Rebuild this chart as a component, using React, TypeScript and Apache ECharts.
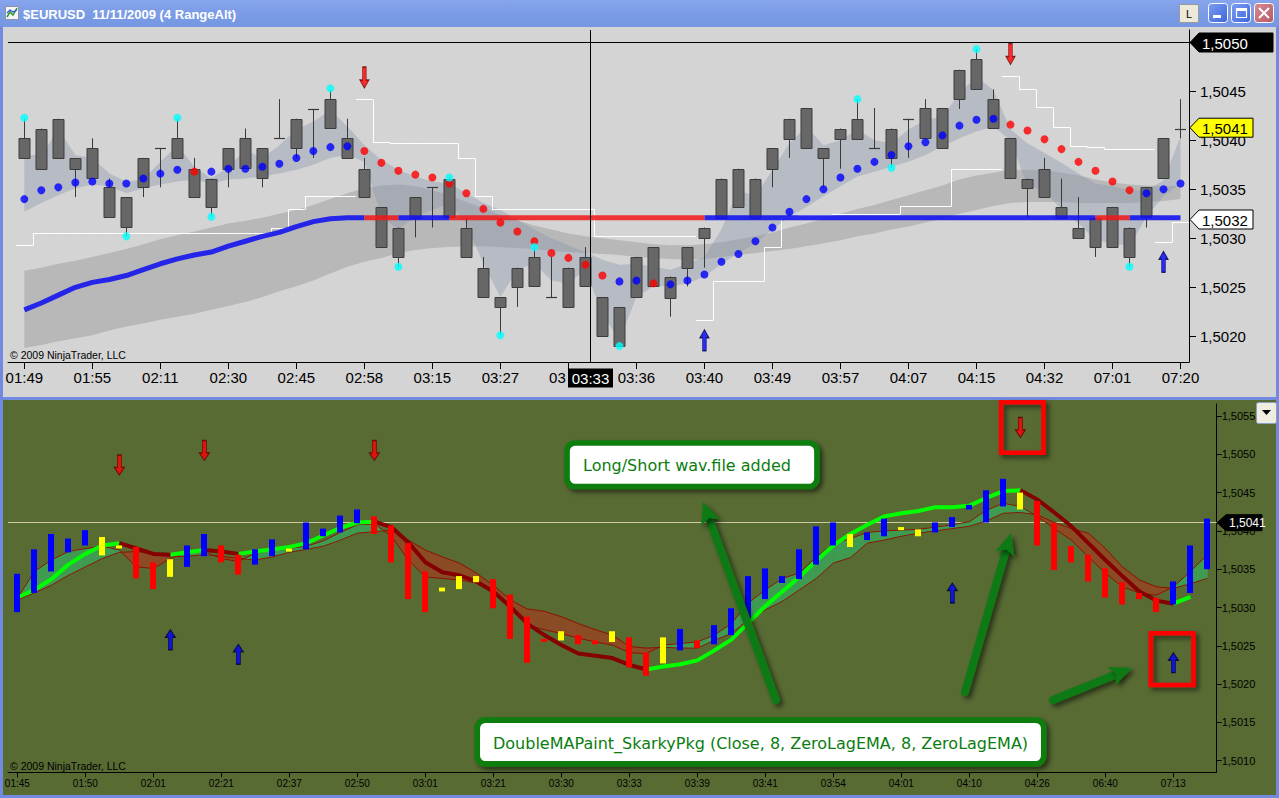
import React, { useEffect, useRef } from "react";
import * as echarts from "echarts";

const FONT = "Liberation Sans, Arial, sans-serif";

// ================= TOP PANEL : $EURUSD 11/11/2009 (4 RangeAlt) =================
// tick label at index 8 is mostly hidden behind the crosshair time box; only "03" shows
const topTickLabels = ["01:49","01:55","02:11","02:30","02:45","02:58","03:15","03:27","03","03:36","03:40","03:49","03:57","04:07","04:15","04:32","07:01","07:20"];
const crosshairTime = "03:33";
const topPriceTicks = [1.502, 1.5025, 1.503, 1.5035, 1.504, 1.5045, 1.505];
const topPriceLabels = [1.502, 1.5025, 1.503, 1.5035, 1.504, 1.5045];

const candleHigh = [
  1.50422,1.50412,1.50422,1.50382,1.50402,1.50361,1.50342,1.50382,1.50392,1.50422,
  1.50382,1.50361,1.50392,1.50412,1.50392,1.50442,1.50422,1.50432,1.50452,1.50422,
  1.50382,1.50332,1.50311,1.50342,1.50352,1.50362,1.50321,1.50281,1.50240,1.50270,
  1.50291,1.50281,1.50270,1.50291,1.50240,1.50230,1.50281,1.50291,1.50261,1.50291,
  1.50311,1.50361,1.50371,1.50361,1.50392,1.50422,1.50433,1.50392,1.50412,1.50442,
  1.50433,1.50412,1.50422,1.50442,1.50433,1.50472,1.50493,1.50452,1.50402,1.50361,
  1.50382,1.50361,1.50342,1.50321,1.50332,1.50311,1.50352,1.50402,1.50442];
const candleBodyTop = [
  1.50402,1.50412,1.50422,1.50382,1.50392,1.50352,1.50342,1.50382,1.50392,1.50402,
  1.50371,1.50361,1.50392,1.50402,1.50392,1.50402,1.50422,1.50432,1.50442,1.50402,
  1.50371,1.50332,1.50311,1.50342,1.50352,1.50361,1.50311,1.50270,1.50240,1.50270,
  1.50281,1.50240,1.50270,1.50281,1.50240,1.50230,1.50281,1.50291,1.50261,1.50291,
  1.50311,1.50361,1.50371,1.50361,1.50392,1.50422,1.50433,1.50392,1.50412,1.50422,
  1.50392,1.50412,1.50422,1.50433,1.50433,1.50472,1.50483,1.50442,1.50402,1.50361,
  1.50371,1.50332,1.50311,1.50321,1.50332,1.50311,1.50352,1.50402,1.50412];
const candleBodyBottom = [
  1.50382,1.50371,1.50382,1.50371,1.50361,1.50321,1.50311,1.50352,1.50392,1.50382,
  1.50342,1.50332,1.50371,1.50371,1.50361,1.50402,1.50392,1.50432,1.50412,1.50382,
  1.50342,1.50291,1.50281,1.50321,1.50352,1.50322,1.50281,1.50240,1.50230,1.50251,
  1.50251,1.50240,1.50230,1.50251,1.50200,1.50190,1.50240,1.50251,1.50240,1.50270,
  1.50301,1.50321,1.50332,1.50321,1.50371,1.50402,1.50392,1.50382,1.50402,1.50402,
  1.50392,1.50382,1.50422,1.50402,1.50392,1.50442,1.50452,1.50412,1.50361,1.50352,
  1.50342,1.50321,1.50301,1.50291,1.50291,1.50281,1.50321,1.50361,1.50412];
const candleLow = [
  1.50382,1.50371,1.50382,1.50342,1.50361,1.50321,1.50302,1.50342,1.50352,1.50382,
  1.50342,1.50322,1.50352,1.50371,1.50352,1.50402,1.50382,1.50382,1.50412,1.50382,
  1.50342,1.50291,1.50271,1.50301,1.50311,1.50322,1.50281,1.50240,1.50201,1.50230,
  1.50251,1.50240,1.50230,1.50251,1.50200,1.50190,1.50240,1.50251,1.50220,1.50251,
  1.50270,1.50321,1.50332,1.50321,1.50352,1.50382,1.50392,1.50352,1.50371,1.50402,
  1.50392,1.50372,1.50382,1.50402,1.50392,1.50432,1.50452,1.50412,1.50361,1.50321,
  1.50342,1.50321,1.50301,1.50281,1.50291,1.50271,1.50311,1.50361,1.50402];

// dotted moving average (blue = up, red = down)
const dotValues = [
  1.50340,1.50349,1.50352,1.50357,1.50358,1.50356,1.50356,1.50361,1.50366,1.50370,
  1.50368,1.50368,1.50371,1.50371,1.50373,1.50376,1.50382,1.50389,1.50393,1.50394,
  1.50389,1.50377,1.50369,1.50365,1.50362,1.50356,1.50346,1.50330,1.50316,1.50307,
  1.50297,1.50285,1.50280,1.50273,1.50262,1.50256,1.50257,1.50254,1.50253,1.50257,
  1.50263,1.50276,1.50284,1.50297,1.50311,1.50327,1.50340,1.50350,1.50362,1.50371,
  1.50378,1.50385,1.50394,1.50398,1.50405,1.50415,1.50421,1.50422,1.50416,1.50410,
  1.50401,1.50391,1.50378,1.50369,1.50358,1.50349,1.50346,1.50350,1.50356];
const dotTrendRuns: [string, number][] = [["u",10],["d",1],["u",9],["d",15],["u",2],["d",1],["u",20],["d",8],["u",3]];

// swing high / low markers
const swingIndex = [0, 6, 9, 11, 18, 22, 25, 28, 30, 35, 49, 51, 56, 65];
const swingValue = [1.50423,1.50302,1.50423,1.50322,1.50453,1.50271,1.50362,1.50201,1.50291,1.50190,1.50442,1.50372,1.50493,1.50271];

// thick trend line
const trendLine = [
  1.50227,1.50234,1.50242,1.50250,1.50255,1.50258,1.50262,1.50268,1.50274,1.50279,
  1.50283,1.50286,1.50292,1.50297,1.50302,1.50306,1.50312,1.50317,1.50320,1.50321,
  1.50321,1.50321,1.50321,1.50321,1.50321,1.50321,1.50321,1.50321,1.50321,1.50321,
  1.50321,1.50321,1.50321,1.50321,1.50321,1.50321,1.50321,1.50321,1.50321,1.50321,
  1.50321,1.50321,1.50321,1.50321,1.50321,1.50321,1.50321,1.50321,1.50321,1.50321,
  1.50321,1.50321,1.50321,1.50321,1.50321,1.50321,1.50321,1.50321,1.50321,1.50321,
  1.50321,1.50321,1.50321,1.50321,1.50321,1.50321,1.50321,1.50321,1.50321];
const trendLineRuns: [string, number][] = [["b",20],["r",2],["b",3],["r",15],["b",23],["r",2],["b",3]];

// white trailing stop
const stopValues = [
  1.50293,
  1.50305,1.50305,1.50305,1.50305,1.50305,1.50305,1.50305,1.50305,1.50305,1.50305,1.50305,1.50305,1.50305,1.50305,
  1.50311,1.50330,1.50343,1.50343,1.50343,
  1.50442,1.50398,1.50397,1.50397,1.50397,1.50397,1.50382,1.50343,
  1.50330,1.50330,1.50330,1.50330,1.50330,1.50330,
  1.50302,1.50302,1.50302,1.50302,1.50302,1.50302,
  1.50217,1.50256,1.50256,1.50256,1.50291,1.50322,1.50324,1.50324,
  1.50325,1.50325,1.50325,1.50325,1.50333,1.50333,1.50333,1.50371,1.50371,1.50371,
  1.50466,1.50452,1.50434,1.50414,1.50394,1.50393,1.50391,1.50391,1.50391,
  1.50296,1.50317];
const stopLegStarts = [0, 20, 40, 58, 67];

// envelope bands
const slowBandUpper = [
  1.50267,1.50270,1.50274,1.50277,1.50281,1.50285,1.50289,1.50294,1.50299,1.50303,
  1.50307,1.50311,1.50315,1.50318,1.50321,1.50325,1.50329,1.50334,1.50340,1.50346,
  1.50351,1.50354,1.50355,1.50353,1.50349,1.50344,1.50337,1.50331,1.50324,1.50318,
  1.50313,1.50309,1.50305,1.50302,1.50300,1.50298,1.50296,1.50294,1.50293,1.50293,
  1.50294,1.50296,1.50299,1.50302,1.50306,1.50311,1.50315,1.50320,1.50325,1.50330,
  1.50334,1.50339,1.50344,1.50349,1.50354,1.50360,1.50364,1.50367,1.50370,1.50370,
  1.50370,1.50367,1.50364,1.50360,1.50357,1.50355,1.50354,1.50353,1.50354];
const slowBandLower = [
  1.50188,1.50191,1.50195,1.50198,1.50201,1.50206,1.50210,1.50213,1.50217,1.50220,
  1.50223,1.50227,1.50231,1.50235,1.50240,1.50246,1.50251,1.50257,1.50264,1.50271,
  1.50276,1.50280,1.50285,1.50288,1.50290,1.50291,1.50292,1.50292,1.50291,1.50290,
  1.50289,1.50287,1.50286,1.50285,1.50284,1.50283,1.50281,1.50280,1.50279,1.50278,
  1.50279,1.50281,1.50283,1.50285,1.50287,1.50289,1.50292,1.50295,1.50298,1.50302,
  1.50305,1.50309,1.50312,1.50316,1.50320,1.50325,1.50329,1.50333,1.50336,1.50337,
  1.50337,1.50337,1.50336,1.50336,1.50336,1.50336,1.50337,1.50338,1.50340];
const fastBandUpper = [
  1.50385,1.50385,1.50411,1.50385,1.50382,1.50366,1.50358,1.50360,1.50378,1.50395,
  1.50373,1.50361,1.50373,1.50390,1.50382,1.50395,1.50411,1.50419,1.50431,1.50414,
  1.50395,1.50380,1.50370,1.50363,1.50358,1.50356,1.50346,1.50336,1.50329,1.50319,
  1.50309,1.50300,1.50293,1.50286,1.50278,1.50273,1.50274,1.50271,1.50268,1.50274,
  1.50281,1.50309,1.50349,1.50343,1.50370,1.50397,1.50414,1.50395,1.50400,1.50411,
  1.50400,1.50397,1.50411,1.50421,1.50424,1.50448,1.50465,1.50451,1.50411,1.50397,
  1.50387,1.50377,1.50366,1.50356,1.50353,1.50349,1.50349,1.50359,1.50404];
const fastBandLower = [
  1.50327,1.50336,1.50344,1.50351,1.50355,1.50353,1.50346,1.50351,1.50355,1.50358,
  1.50360,1.50356,1.50360,1.50361,1.50363,1.50366,1.50370,1.50375,1.50382,1.50385,
  1.50378,1.50322,1.50309,1.50322,1.50329,1.50336,1.50315,1.50274,1.50240,1.50268,
  1.50274,1.50257,1.50254,1.50268,1.50223,1.50196,1.50240,1.50251,1.50251,1.50254,
  1.50261,1.50274,1.50285,1.50295,1.50309,1.50322,1.50332,1.50343,1.50353,1.50363,
  1.50368,1.50373,1.50378,1.50385,1.50394,1.50402,1.50409,1.50414,1.50400,1.50353,
  1.50349,1.50329,1.50315,1.50298,1.50295,1.50292,1.50322,1.50343,1.50356];

// signal arrows [bar index, price]
const topSellArrows = [[20, 1.50464], [58, 1.50488]];
const topBuyArrows = [[40, 1.50196], [67, 1.50276]];

// ================= BOTTOM PANEL : DoubleMAPaint =================
const bottomTickLabels = ["01:45","01:50","02:01","02:21","02:37","02:50","03:01","03:21","03:30","03:33","03:39","03:41","03:54","04:01","04:10","04:26","06:40","07:13"];
const bottomPriceTicks = [1.501, 1.5015, 1.502, 1.5025, 1.503, 1.5035, 1.504, 1.5045, 1.505, 1.5055];

const barHigh = [
  1.50344,1.50376,1.50396,1.50390,1.50401,1.50392,1.50381,1.50379,1.50359,1.50363,
  1.50381,1.50396,1.50381,1.50369,1.50376,1.50389,1.50377,1.50411,1.50403,1.50420,
  1.50428,1.50419,1.50407,1.50384,1.50347,1.50326,1.50341,1.50341,1.50337,1.50317,
  1.50288,1.50259,1.50269,1.50264,1.50257,1.50269,1.50261,1.50241,1.50261,1.50272,
  1.50257,1.50277,1.50299,1.50341,1.50351,1.50341,1.50376,1.50406,1.50411,1.50396,
  1.50398,1.50416,1.50405,1.50402,1.50411,1.50418,1.50434,1.50453,1.50468,1.50450,
  1.50439,1.50410,1.50380,1.50369,1.50351,1.50333,1.50319,1.50313,1.50334,1.50381,1.50416];
const barLow = [
  1.50294,1.50319,1.50347,1.50372,1.50381,1.50368,1.50378,1.50338,1.50324,1.50340,
  1.50353,1.50367,1.50359,1.50343,1.50356,1.50367,1.50373,1.50376,1.50393,1.50398,
  1.50410,1.50396,1.50359,1.50311,1.50294,1.50321,1.50324,1.50333,1.50299,1.50259,
  1.50228,1.50257,1.50257,1.50252,1.50252,1.50255,1.50222,1.50211,1.50227,1.50244,
  1.50247,1.50252,1.50264,1.50286,1.50311,1.50332,1.50337,1.50356,1.50381,1.50379,
  1.50388,1.50393,1.50401,1.50393,1.50398,1.50405,1.50428,1.50411,1.50432,1.50428,
  1.50381,1.50349,1.50359,1.50334,1.50313,1.50304,1.50311,1.50294,1.50304,1.50319,1.50350];
const barStateRuns: [string, number][] = [["b",5],["y",2],["r",2],["y",1],["b",2],["r",2],["b",2],["y",1],["b",4],["r",4],["y",3],["r",4],["y",1],["r",2],["y",1],["r",2],["y",1],["b",1],["r",1],["b",8],["y",1],["b",2],["y",2],["b",5],["y",1],["r",8],["b",3]];

const fastMA: (number | null)[] = [
  1.50313,1.50323,1.50337,1.50356,1.50370,1.50381,1.50384,1.50377,1.50370,1.50369,
  1.50372,1.50375,1.50373,1.50370,1.50373,1.50376,1.50379,1.50384,1.50394,1.50404,
  1.50411,1.50412,1.50405,1.50385,1.50359,1.50346,1.50342,1.50334,1.50321,1.50301,
  1.50279,1.50264,1.50251,1.50240,1.50237,1.50234,1.50225,1.50219,1.50223,1.50226,
  1.50231,1.50244,1.50258,1.50280,1.50302,1.50321,1.50340,1.50361,1.50381,1.50396,
  1.50408,1.50419,1.50423,1.50426,1.50431,1.50431,1.50433,1.50443,1.50452,1.50453,
  1.50441,1.50424,1.50406,1.50384,1.50362,1.50341,1.50321,1.50309,1.50305,1.50314,null];
const fastMARuns: [string, number][] = [["g",6],["r",3],["g",2],["r",2],["g",8],["r",16],["g",22],["r",9],["g",1]];

const envA = [
  1.50312,1.50347,1.50362,1.50373,1.50377,1.50380,1.50375,1.50353,1.50351,1.50364,
  1.50372,1.50373,1.50364,1.50360,1.50371,1.50375,1.50377,1.50380,1.50387,1.50398,
  1.50408,1.50409,1.50393,1.50362,1.50340,1.50338,1.50336,1.50332,1.50319,1.50299,
  1.50277,1.50271,1.50266,1.50260,1.50255,1.50251,1.50241,1.50240,1.50251,1.50253,
  1.50255,1.50264,1.50279,1.50306,1.50323,1.50338,1.50345,1.50366,1.50383,1.50390,
  1.50398,1.50400,1.50401,1.50402,1.50405,1.50408,1.50412,1.50427,1.50436,1.50432,
  1.50419,1.50403,1.50388,1.50366,1.50345,1.50327,1.50319,1.50316,1.50327,1.50347,1.50369];
const envB = [
  1.50310,1.50319,1.50329,1.50342,1.50353,1.50364,1.50372,1.50373,1.50371,1.50366,
  1.50367,1.50369,1.50367,1.50364,1.50362,1.50366,1.50372,1.50376,1.50380,1.50388,
  1.50397,1.50399,1.50401,1.50388,1.50375,1.50366,1.50358,1.50345,1.50329,1.50310,
  1.50298,1.50295,1.50288,1.50279,1.50271,1.50264,1.50249,1.50247,1.50248,1.50247,
  1.50247,1.50257,1.50266,1.50284,1.50297,1.50308,1.50323,1.50338,1.50358,1.50365,
  1.50384,1.50388,1.50393,1.50397,1.50400,1.50403,1.50406,1.50413,1.50423,1.50424,
  1.50421,1.50411,1.50403,1.50397,1.50377,1.50353,1.50336,1.50327,1.50325,1.50331,1.50338];

const bottomSellArrows = [[6, 1.50486], [11, 1.50505], [21, 1.50505], [59, 1.50535]];
const bottomBuyArrows = [[9, 1.50258], [13, 1.50239], [55, 1.50319], [68, 1.50228]];

// ================= helpers =================
const fmtPrice = (v: number) => v.toFixed(4).replace(".", ",");
function expandRuns(runs: [string, number][]) {
  const out: string[] = [];
  runs.forEach(([c, n]) => { for (let k = 0; k < n; k++) out.push(c); });
  return out;
}
function splitByTrend(values: (number | null)[], trend: string[], code: string) {
  return values.map((v, i) => {
    const on = (i > 0 && trend[i - 1] === code) || (i < trend.length && trend[i] === code);
    return [i, on && v != null ? v : "-"];
  });
}
const DOWN_ARROW = "path://M3,0L7,0L7,13L10,13L5,21L0,13L3,13Z";
const UP_ARROW = "path://M5,0L10,8L7,8L7,21L3,21L3,8L0,8Z";

function bandPolygon(api: any, up: number[], lo: number[]) {
  const pts: number[][] = [];
  up.forEach((v, i) => pts.push(api.coord([i, v])));
  for (let i = lo.length - 1; i >= 0; i--) pts.push(api.coord([i, lo[i]]));
  return pts;
}

function greenArrow(tx: number, ty: number, hx: number, hy: number) {
  const dx = hx - tx, dy = hy - ty;
  const len = Math.hypot(dx, dy);
  const ux = dx / len, uy = dy / len, nx = -uy, ny = ux;
  const headLen = 22, headW = 10;
  const bx = hx - ux * headLen, by = hy - uy * headLen;
  const sh = { shadowBlur: 5, shadowColor: "rgba(0,0,0,0.55)", shadowOffsetX: 3, shadowOffsetY: 3 };
  return [
    { type: "line", z: 100, shape: { x1: tx, y1: ty, x2: bx + ux * 4, y2: by + uy * 4 }, style: { stroke: "#0e7a12", lineWidth: 8, lineCap: "round", ...sh } },
    { type: "polygon", z: 101, shape: { points: [[hx, hy], [bx + nx * headW, by + ny * headW], [bx + ux * 5, by + uy * 5], [bx - nx * headW, by - ny * headW]] }, style: { fill: "#0e7a12", ...sh } },
  ];
}

function priceTag(x: number, y: number, w: number, text: string, fill: string, color: string, stroke: string | null, fs: number) {
  const h = fs + 4;
  return [
    { type: "polygon", z: 60, shape: { points: [[x, y], [x + 9, y - h / 2], [x + w, y - h / 2], [x + w, y + h / 2], [x + 9, y + h / 2]] }, style: { fill, stroke: stroke || fill, lineWidth: 1 } },
    { type: "text", z: 61, x: x + 12, y: y + 0.5, style: { text, fill: color, fontSize: fs, fontFamily: FONT, verticalAlign: "middle", textVerticalAlign: "middle" } },
  ];
}

function buildOption() {
  const dotTrend = expandRuns(dotTrendRuns);
  const lineTrend = expandRuns(trendLineRuns);
  const barState = expandRuns(barStateRuns);
  const fastTrend = expandRuns(fastMARuns);
  const topTickIdx = topTickLabels.map((_, k) => k * 4);
  const bottomTickIdx = bottomTickLabels.map((_, k) => k * 4);
  const GREEN_FILL = "#3f9b52";
  const BROWN_FILL = "#8b4b25";
  const barColor: Record<string, string> = { b: "#0000ff", r: "#ff0000", y: "#ffff00" };

  const series: any[] = [
    {
      type: "custom", xAxisIndex: 0, yAxisIndex: 0, z: 1, silent: true, data: [[0, slowBandUpper[0]]],
      renderItem: (_p: any, api: any) => ({ type: "polygon", shape: { points: bandPolygon(api, slowBandUpper, slowBandLower) }, style: { fill: "rgba(120,120,120,0.30)" } }),
    },
    {
      type: "custom", xAxisIndex: 0, yAxisIndex: 0, z: 1, silent: true, data: [[0, fastBandUpper[0]]],
      renderItem: (_p: any, api: any) => ({ type: "polygon", shape: { points: bandPolygon(api, fastBandUpper, fastBandLower) }, style: { fill: "rgba(135,146,170,0.38)" } }),
    },
    {
      type: "custom", xAxisIndex: 0, yAxisIndex: 0, z: 2, silent: true,
      data: stopValues.map((v, i) => [i, v]),
      renderItem: (params: any, api: any) => {
        const i = params.dataIndex;
        const p = api.coord([i, stopValues[i]]);
        const half = api.size([1, 0])[0] / 2;
        const y = Math.round(p[1]) + 0.5;
        const children: any[] = [{ type: "line", shape: { x1: p[0] - half, y1: y, x2: p[0] + half, y2: y }, style: { stroke: "#ffffff", lineWidth: 1 } }];
        if (i > 0 && stopLegStarts.indexOf(i) < 0) {
          const q = api.coord([i - 1, stopValues[i - 1]]);
          const xq = Math.round(p[0] - half) + 0.5;
          children.push({ type: "line", shape: { x1: xq, y1: Math.round(q[1]) + 0.5, x2: xq, y2: y }, style: { stroke: "#ffffff", lineWidth: 1 } });
        }
        return { type: "group", children };
      },
    },
    {
      type: "custom", xAxisIndex: 0, yAxisIndex: 0, z: 3, silent: true,
      data: candleHigh.map((h, i) => [i, h, candleBodyTop[i], candleBodyBottom[i], candleLow[i]]),
      encode: { x: 0, y: [1, 4] },
      renderItem: (params: any, api: any) => {
        const i = params.dataIndex;
        const pH = api.coord([i, candleHigh[i]]);
        const pT = api.coord([i, candleBodyTop[i]]);
        const pB = api.coord([i, candleBodyBottom[i]]);
        const pL = api.coord([i, candleLow[i]]);
        const x = Math.round(pH[0]) + 0.5;
        const w = 11;
        const children: any[] = [];
        if (pL[1] - pH[1] > 0.5) children.push({ type: "line", shape: { x1: x, y1: pH[1], x2: x, y2: pL[1] }, style: { stroke: "#3a3a3a", lineWidth: 1 } });
        if (pB[1] - pT[1] < 1.5) {
          const yy = Math.round(pT[1]) + 0.5;
          children.push({ type: "line", shape: { x1: x - w / 2, y1: yy, x2: x + w / 2, y2: yy }, style: { stroke: "#3a3a3a", lineWidth: 1.2 } });
        } else {
          children.push({ type: "rect", shape: { x: x - w / 2, y: Math.round(pT[1]) + 0.5, width: w, height: Math.round(pB[1] - pT[1]) }, style: { fill: "#676767", stroke: "#3c3c3c", lineWidth: 1 } });
        }
        return { type: "group", children };
      },
    },
    {
      type: "line", xAxisIndex: 0, yAxisIndex: 0, z: 4, silent: true, symbol: "none", connectNulls: false,
      data: splitByTrend(trendLine, lineTrend, "b"), lineStyle: { color: "#1010f0", width: 5, opacity: 0.88 },
    },
    {
      type: "line", xAxisIndex: 0, yAxisIndex: 0, z: 4, silent: true, symbol: "none", connectNulls: false,
      data: splitByTrend(trendLine, lineTrend, "r"), lineStyle: { color: "#f01818", width: 5, opacity: 0.85 },
    },
    {
      type: "scatter", xAxisIndex: 0, yAxisIndex: 0, z: 5, silent: true, symbolSize: 8,
      data: dotValues.map((v, i) => ({ value: [i, v], itemStyle: { color: dotTrend[i] === "u" ? "#0000ff" : "#ff0000" } })),
    },
    {
      type: "scatter", xAxisIndex: 0, yAxisIndex: 0, z: 5, silent: true, symbolSize: 8,
      data: swingIndex.map((i, k) => [i, swingValue[k]]), itemStyle: { color: "#00ffff" },
    },
    {
      type: "scatter", xAxisIndex: 0, yAxisIndex: 0, z: 6, silent: true, symbol: DOWN_ARROW, symbolSize: [9, 21],
      data: topSellArrows, itemStyle: { color: "#ff0000", borderColor: "#6a0000", borderWidth: 1 },
    },
    {
      type: "scatter", xAxisIndex: 0, yAxisIndex: 0, z: 6, silent: true, symbol: UP_ARROW, symbolSize: [9, 21],
      data: topBuyArrows, itemStyle: { color: "#0000ff", borderColor: "#000044", borderWidth: 1 },
    },
    {
      type: "custom", xAxisIndex: 1, yAxisIndex: 1, z: 1, silent: true,
      data: envA.slice(0, -1).map((v, i) => [i, v]),
      renderItem: (params: any, api: any) => {
        const i = params.dataIndex;
        const a0 = api.coord([i, envA[i]]), a1 = api.coord([i + 1, envA[i + 1]]);
        const b0 = api.coord([i, envB[i]]), b1 = api.coord([i + 1, envB[i + 1]]);
        const d0 = envA[i] - envB[i], d1 = envA[i + 1] - envB[i + 1];
        const col = (d: number) => (d >= 0 ? GREEN_FILL : BROWN_FILL);
        if (d0 * d1 < 0) {
          const t = d0 / (d0 - d1);
          const c = [a0[0] + t * (a1[0] - a0[0]), a0[1] + t * (a1[1] - a0[1])];
          return {
            type: "group", children: [
              { type: "polygon", shape: { points: [a0, c, b0] }, style: { fill: col(d0), stroke: col(d0), lineWidth: 0.6 } },
              { type: "polygon", shape: { points: [c, a1, b1] }, style: { fill: col(d1), stroke: col(d1), lineWidth: 0.6 } },
            ],
          };
        }
        const cc = col(d0 + d1);
        return { type: "polygon", shape: { points: [a0, a1, b1, b0] }, style: { fill: cc, stroke: cc, lineWidth: 0.6 } };
      },
    },
    {
      type: "line", xAxisIndex: 1, yAxisIndex: 1, z: 2, silent: true, symbol: "none",
      data: envA.map((v, i) => [i, v]), lineStyle: { color: "#8a1400", width: 1 },
    },
    {
      type: "line", xAxisIndex: 1, yAxisIndex: 1, z: 2, silent: true, symbol: "none",
      data: envB.map((v, i) => [i, v]), lineStyle: { color: "#8a1400", width: 1 },
    },
    {
      type: "line", xAxisIndex: 1, yAxisIndex: 1, z: 3, silent: true, symbol: "none", connectNulls: false,
      data: splitByTrend(fastMA, fastTrend, "g"), lineStyle: { color: "#00ff00", width: 4 },
    },
    {
      type: "line", xAxisIndex: 1, yAxisIndex: 1, z: 3, silent: true, symbol: "none", connectNulls: false,
      data: splitByTrend(fastMA, fastTrend, "r"), lineStyle: { color: "#850000", width: 4 },
    },
    {
      type: "custom", xAxisIndex: 1, yAxisIndex: 1, z: 4, silent: true,
      data: barHigh.map((h, i) => [i, h, barLow[i]]),
      encode: { x: 0, y: [1, 2] },
      renderItem: (params: any, api: any) => {
        const i = params.dataIndex;
        const p1 = api.coord([i, barHigh[i]]);
        const p2 = api.coord([i, barLow[i]]);
        const h = Math.max(p2[1] - p1[1], 3);
        return { type: "rect", shape: { x: Math.round(p1[0]) - 3, y: p1[1], width: 6, height: h }, style: { fill: barColor[barState[i]] } };
      },
    },
    {
      type: "scatter", xAxisIndex: 1, yAxisIndex: 1, z: 6, silent: true, symbol: DOWN_ARROW, symbolSize: [10, 20],
      data: bottomSellArrows, itemStyle: { color: "#ff0000", borderColor: "#5a0000", borderWidth: 1 },
    },
    {
      type: "scatter", xAxisIndex: 1, yAxisIndex: 1, z: 6, silent: true, symbol: UP_ARROW, symbolSize: [10, 20],
      data: bottomBuyArrows, itemStyle: { color: "#0000ff", borderColor: "#000030", borderWidth: 1 },
    },
  ];

  const sh = { shadowBlur: 5, shadowColor: "rgba(0,0,0,0.55)", shadowOffsetX: 3, shadowOffsetY: 3 };
  const elements: any[] = [
    { type: "rect", z: -20, shape: { x: 0, y: 0, width: 1279, height: 798 }, style: { fill: "#7189de" } },
    { type: "rect", z: -19, shape: { x: 0, y: 0, width: 1279, height: 27 }, style: { fill: { type: "linear", x: 0, y: 0, x2: 0, y2: 1, colorStops: [{ offset: 0, color: "#86a5ec" }, { offset: 0.5, color: "#7b9be5" }, { offset: 1, color: "#7597e2" }] } } },
    { type: "rect", z: -19, shape: { x: 3, y: 27, width: 1273, height: 370 }, style: { fill: "#d4d4d4" } },
    { type: "rect", z: -19, shape: { x: 3, y: 400, width: 1273, height: 395 }, style: { fill: "#586b33" } },
    { type: "rect", z: 50, shape: { x: 5.5, y: 6.5, width: 13, height: 13 }, style: { fill: "#f4f4f4", stroke: "#8894a8", lineWidth: 1 } },
    { type: "polyline", z: 51, shape: { points: [[7, 17], [10, 12], [13, 15], [17, 8]] }, style: { stroke: "#2a9a2a", lineWidth: 1.5, fill: null } },
    { type: "polyline", z: 51, shape: { points: [[7, 13], [10, 10], [13, 12], [17, 10]] }, style: { stroke: "#2f52d8", lineWidth: 1.2, fill: null } },
    { type: "text", z: 50, x: 23, y: 14, style: { text: "$EURUSD  11/11/2009 (4 RangeAlt)", fill: "#ffffff", fontSize: 13, fontWeight: "bold", fontFamily: FONT, verticalAlign: "middle", textVerticalAlign: "middle" } },
    { type: "rect", z: 50, shape: { x: 1179.5, y: 4.5, width: 19, height: 18 }, style: { fill: "#ece9d8", stroke: "#9a9a9a", lineWidth: 1 } },
    { type: "text", z: 51, x: 1189, y: 14, style: { text: "L", fill: "#000", fontSize: 11, fontFamily: FONT, align: "center", textAlign: "center", verticalAlign: "middle", textVerticalAlign: "middle" } },
    { type: "rect", z: 50, shape: { x: 1208.5, y: 3.5, width: 19, height: 19, r: 3 }, style: { fill: { type: "linear", x: 0, y: 0, x2: 1, y2: 1, colorStops: [{ offset: 0, color: "#7c9cf2" }, { offset: 1, color: "#3d66dc" }] }, stroke: "#ffffff", lineWidth: 1 } },
    { type: "rect", z: 51, shape: { x: 1213, y: 15, width: 8, height: 3 }, style: { fill: "#ffffff" } },
    { type: "rect", z: 50, shape: { x: 1231.5, y: 3.5, width: 19, height: 19, r: 3 }, style: { fill: { type: "linear", x: 0, y: 0, x2: 1, y2: 1, colorStops: [{ offset: 0, color: "#7c9cf2" }, { offset: 1, color: "#3d66dc" }] }, stroke: "#ffffff", lineWidth: 1 } },
    { type: "rect", z: 51, shape: { x: 1236.5, y: 8.5, width: 10, height: 9 }, style: { fill: null, stroke: "#ffffff", lineWidth: 1.2 } },
    { type: "rect", z: 51, shape: { x: 1236.5, y: 8.5, width: 10, height: 2.5 }, style: { fill: "#ffffff" } },
    { type: "rect", z: 50, shape: { x: 1254.5, y: 3.5, width: 19, height: 19, r: 3 }, style: { fill: { type: "linear", x: 0, y: 0, x2: 1, y2: 1, colorStops: [{ offset: 0, color: "#d88a92" }, { offset: 1, color: "#b75866" }] }, stroke: "#ffffff", lineWidth: 1 } },
    { type: "line", z: 51, shape: { x1: 1259, y1: 8, x2: 1269, y2: 18 }, style: { stroke: "#ffffff", lineWidth: 2 } },
    { type: "line", z: 51, shape: { x1: 1269, y1: 8, x2: 1259, y2: 18 }, style: { stroke: "#ffffff", lineWidth: 2 } },

    { type: "text", z: 50, x: 10, y: 355, style: { text: "© 2009 NinjaTrader, LLC", fill: "#000", fontSize: 10.5, fontFamily: FONT, verticalAlign: "middle", textVerticalAlign: "middle" } },
    { type: "line", z: 50, shape: { x1: 8, y1: 42.5, x2: 1189, y2: 42.5 }, style: { stroke: "#000", lineWidth: 1 } },
    { type: "line", z: 50, shape: { x1: 590.5, y1: 30, x2: 590.5, y2: 362 }, style: { stroke: "#000", lineWidth: 1 } },
    { type: "rect", z: 60, shape: { x: 568, y: 368.5, width: 45, height: 19 }, style: { fill: "#000" } },
    { type: "text", z: 61, x: 590.5, y: 378.5, style: { text: crosshairTime, fill: "#fff", fontSize: 15, fontFamily: FONT, align: "center", textAlign: "center", verticalAlign: "middle", textVerticalAlign: "middle" } },
    ...priceTag(1190, 42.5, 83, "1,5050", "#000000", "#ffffff", null, 15),
    ...priceTag(1190, 127.7, 63, "1,5041", "#ffff00", "#000000", "#000000", 15),
    ...priceTag(1190, 219.5, 63, "1,5032", "#ffffff", "#000000", "#000000", 15),

    { type: "line", z: 1, shape: { x1: 8, y1: 522.5, x2: 1216.7, y2: 522.5 }, style: { stroke: "#cfc8a6", lineWidth: 1 } },
    { type: "text", z: 50, x: 10, y: 766, style: { text: "© 2009 NinjaTrader, LLC", fill: "#000", fontSize: 10.5, fontFamily: FONT, verticalAlign: "middle", textVerticalAlign: "middle" } },
    ...priceTag(1217, 522.7, 45, "1,5041", "#000000", "#ffffff", null, 12),
    { type: "rect", z: 60, shape: { x: 1256.5, y: 402.5, width: 20, height: 21, r: 2 }, style: { fill: "#efece0", stroke: "#8aa0c0", lineWidth: 1 } },
    { type: "polygon", z: 61, shape: { points: [[1262, 410], [1271, 410], [1266.5, 415]] }, style: { fill: "#000" } },

    { type: "rect", z: 100, shape: { x: 567, y: 443, width: 250, height: 43.5, r: 8 }, style: { fill: "#ffffff", stroke: "#0b7d10", lineWidth: 5.7, ...sh } },
    { type: "text", z: 101, x: 583, y: 465, style: { text: "Long/Short wav.file added", fill: "#0b7d10", fontSize: 16, fontFamily: "DejaVu Sans, sans-serif", verticalAlign: "middle", textVerticalAlign: "middle" } },
    { type: "rect", z: 100, shape: { x: 477.2, y: 720.2, width: 566.6, height: 43.6, r: 8 }, style: { fill: "#ffffff", stroke: "#0b7d10", lineWidth: 5.7, ...sh } },
    { type: "text", z: 101, x: 493, y: 743, style: { text: "DoubleMAPaint_SkarkyPkg (Close, 8, ZeroLagEMA, 8, ZeroLagEMA)", fill: "#0b7d10", fontSize: 16, fontFamily: "DejaVu Sans, sans-serif", verticalAlign: "middle", textVerticalAlign: "middle" } },
    ...greenArrow(776, 700, 703, 502),
    ...greenArrow(965, 692, 1011, 533),
    ...greenArrow(1053, 700, 1132, 668),
    { type: "rect", z: 100, shape: { x: 1001, y: 402.3, width: 42.6, height: 50.5 }, style: { fill: null, stroke: "#ff0000", lineWidth: 4.5, ...sh } },
    { type: "rect", z: 100, shape: { x: 1150.8, y: 633.2, width: 42.7, height: 51.8 }, style: { fill: null, stroke: "#ff0000", lineWidth: 4.6, ...sh } },
  ];

  return {
    animation: false,
    grid: [
      { left: 8, top: 30, width: 1181, height: 332 },
      { left: 8, top: 404, width: 1208.7, height: 368.3 },
    ],
    xAxis: [
      {
        type: "value", gridIndex: 0, min: -0.96, max: 68.5, splitLine: { show: false },
        axisLine: { show: true, onZero: false, lineStyle: { color: "#000", width: 1 } },
        axisTick: { show: true, customValues: topTickIdx, length: 7, lineStyle: { color: "#000" } },
        axisLabel: {
          customValues: topTickIdx, color: "#000", fontSize: 15, fontFamily: FONT, margin: 8,
          formatter: (v: number) => {
            const k = Math.round(v / 4);
            const t = topTickLabels[k] ?? "";
            return t.length < 5 ? "{l|" + t + "}" : t;
          },
          rich: { l: { fontSize: 15, fontFamily: FONT, color: "#000", align: "right", padding: [0, 22, 0, 0] } },
        },
      },
      {
        type: "value", gridIndex: 1, min: -0.55, max: 70.55, splitLine: { show: false },
        axisLine: { show: true, onZero: false, lineStyle: { color: "#000", width: 1 } },
        axisTick: { show: true, customValues: bottomTickIdx, length: 5, lineStyle: { color: "#000" } },
        axisLabel: { customValues: bottomTickIdx, formatter: (v: number) => bottomTickLabels[Math.round(v / 4)] ?? "", color: "#000", fontSize: 10, fontFamily: FONT, margin: 6 },
      },
    ],
    yAxis: [
      {
        type: "value", gridIndex: 0, position: "right", min: 1.5017377, max: 1.5051255, splitLine: { show: false },
        axisLine: { show: true, onZero: false, lineStyle: { color: "#000", width: 1 } },
        axisTick: { show: true, customValues: topPriceTicks, length: 7, lineStyle: { color: "#000" } },
        axisLabel: { customValues: topPriceLabels, formatter: fmtPrice, color: "#000", fontSize: 15, fontFamily: FONT, margin: 11 },
      },
      {
        type: "value", gridIndex: 1, position: "right", min: 1.5008486, max: 1.5056567, splitLine: { show: false },
        axisLine: { show: true, onZero: false, lineStyle: { color: "#000", width: 1 } },
        axisTick: { show: true, customValues: bottomPriceTicks, length: 5, lineStyle: { color: "#000" } },
        axisLabel: { customValues: bottomPriceTicks, formatter: fmtPrice, color: "#000", fontSize: 11, fontFamily: FONT, margin: 5 },
      },
    ],
    series,
    graphic: { elements },
  };
}

export default function App() {
  const ref = useRef<HTMLDivElement>(null);
  useEffect(() => {
    document.body.style.margin = "0";
    const chart = echarts.init(ref.current as HTMLDivElement, null, { renderer: "svg", width: 1279, height: 798 });
    chart.setOption(buildOption() as any);
    return () => chart.dispose();
  }, []);
  return <div ref={ref} style={{ position: "absolute", left: 0, top: 0, width: 1279, height: 798 }} />;
}
